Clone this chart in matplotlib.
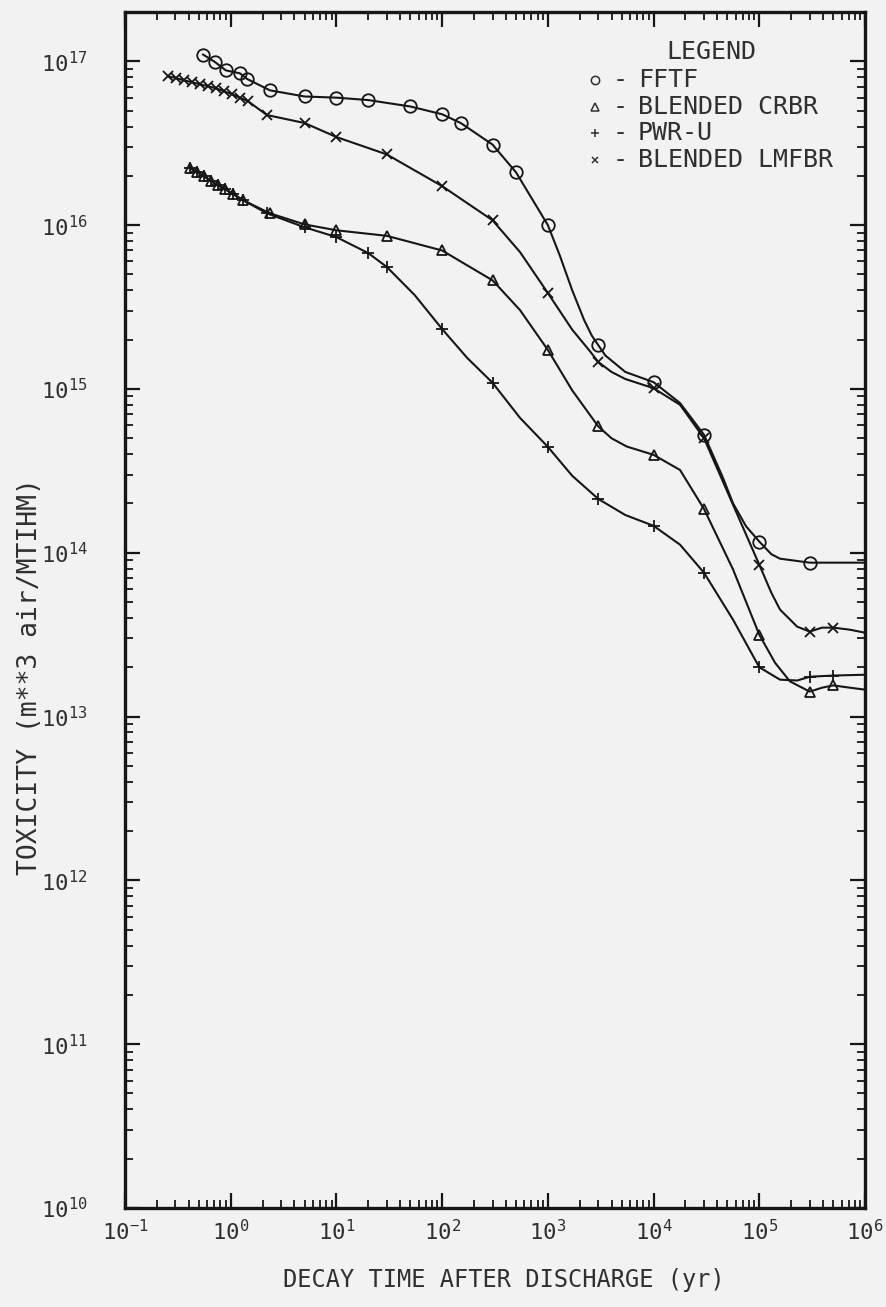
import matplotlib
matplotlib.use("Agg")
import matplotlib.pyplot as plt
from matplotlib.ticker import FixedLocator, NullFormatter, LogFormatterMathtext

# ---------------- data ----------------
fftf_t = [0.547, 0.71, 0.90, 1.22, 1.43, 2.35, 5, 10, 20, 50, 100, 150, 300, 500, 1000,
          1300, 1700, 2200, 2600, 3000, 3500, 5400, 10000, 17800, 30000, 45000, 56500, 75000,
          100000, 130000, 157000, 300000, 1e6]
fftf_v = [1.10e17, 9.9e16, 8.8e16, 8.45e16, 7.8e16, 6.65e16, 6.1e16, 6.0e16, 5.8e16, 5.3e16,
          4.75e16, 4.2e16, 3.1e16, 2.1e16, 1.0e16,
          6.5e15, 4.0e15, 2.64e15, 2.12e15, 1.85e15, 1.6e15, 1.27e15, 1.1e15, 8.2e14,
          5.25e14, 2.9e14, 2.0e14, 1.45e14,
          1.17e14, 9.8e13, 9.2e13, 8.7e13, 8.7e13]
fftf_mark = [1, 1, 1, 1, 1, 1, 1, 1, 1, 1, 1, 1, 1, 1, 1,
             0, 0, 0, 0, 1, 0, 0, 1, 0, 1, 0, 0, 0,
             1, 0, 0, 1, 0]

lmfbr_t = [0.255, 0.304, 0.361, 0.43, 0.512, 0.61, 0.726, 0.864, 1.03, 1.22, 1.46, 2.2, 5, 10,
           30, 100, 300, 545, 1000, 1700, 2500, 3000, 4000, 5400, 10000, 17800, 30000, 56500,
           100000, 130000, 157000, 228000, 300000, 392000, 500000, 722000, 1e6]
lmfbr_v = [8.1e16, 7.9e16, 7.66e16, 7.45e16, 7.24e16, 7.04e16, 6.85e16, 6.56e16, 6.3e16, 6.0e16,
           5.7e16, 4.7e16, 4.2e16, 3.45e16, 2.7e16, 1.73e16, 1.07e16, 6.85e15, 3.85e15, 2.3e15,
           1.7e15, 1.46e15, 1.27e15, 1.15e15, 1.01e15, 8.0e14, 5.0e14, 1.96e14,
           8.45e13, 5.7e13, 4.5e13, 3.54e13, 3.3e13, 3.49e13, 3.49e13, 3.39e13, 3.25e13]
lmfbr_mark = [1, 1, 1, 1, 1, 1, 1, 1, 1, 1, 1, 1, 1, 1, 1, 1, 1, 0, 1, 0, 0, 1, 0, 0, 1, 0, 1, 0,
              1, 0, 0, 0, 1, 0, 1, 0, 0]

crbr_t = [0.412, 0.48, 0.559, 0.651, 0.758, 0.883, 1.05, 1.31, 2.35, 5, 10, 30, 100, 300, 545,
          1000, 1700, 3000, 4000, 5580, 10000, 17800, 30000, 56500, 100000, 141000, 195000,
          300000, 392000, 500000, 722000, 1e6]
crbr_v = [2.23e16, 2.1e16, 1.99e16, 1.85e16, 1.75e16, 1.66e16, 1.55e16, 1.42e16, 1.18e16,
          1.01e16, 9.3e15, 8.6e15, 7.0e15, 4.6e15, 3.03e15, 1.73e15, 9.8e14, 5.9e14, 5.0e14,
          4.45e14, 3.96e14, 3.2e14, 1.85e14, 7.9e13, 3.16e13, 2.13e13, 1.64e13, 1.42e13,
          1.50e13, 1.55e13, 1.50e13, 1.46e13]
crbr_mark = [1, 1, 1, 1, 1, 1, 1, 1, 1, 1, 1, 1, 1, 1, 0, 1, 0, 1, 0, 0, 1, 0, 1, 0, 1, 0, 0,
             1, 0, 1, 0, 0]

pwr_t = [0.412, 0.48, 0.559, 0.651, 0.758, 0.883, 1.05, 1.31, 2.2, 5, 10, 20, 30, 55, 100, 172,
         300, 545, 1000, 1700, 3000, 5400, 10000, 17800, 30000, 56500, 100000, 157000, 228000,
         300000, 500000, 1e6]
pwr_v = [2.23e16, 2.1e16, 1.99e16, 1.85e16, 1.75e16, 1.66e16, 1.55e16, 1.42e16, 1.18e16,
         9.7e15, 8.45e15, 6.75e15, 5.55e15, 3.74e15, 2.32e15, 1.55e15, 1.09e15, 6.66e14,
         4.43e14, 2.95e14, 2.13e14, 1.70e14, 1.46e14, 1.12e14, 7.55e13, 3.9e13, 2.0e13,
         1.68e13, 1.66e13, 1.75e13, 1.78e13, 1.8e13]
pwr_mark = [1, 1, 1, 1, 1, 1, 1, 1, 1, 1, 1, 1, 1, 0, 1, 0, 1, 0, 1, 0, 1, 0, 1, 0, 1, 0, 1,
            0, 0, 1, 1, 0]

x_decades = [-1, 0, 1, 2, 3, 4, 5, 6]
y_decades = [10, 11, 12, 13, 14, 15, 16, 17]

legend_title = "LEGEND"
legend_labels = ["FFTF", "BLENDED CRBR", "PWR-U", "BLENDED LMFBR"]
x_label = "DECAY TIME AFTER DISCHARGE (yr)"
y_label = "TOXICITY (m**3 air/MTIHM)"

# ---------------- style ----------------
plt.rcParams['font.family'] = ['DejaVu Sans Mono', 'DejaVu Sans']
plt.rcParams['mathtext.default'] = 'regular'
TXT = '#303030'
LINE = '#161616'
BG = '#f2f2f2'

W, H = 887, 1307
fig = plt.figure(figsize=(W / 100, H / 100), dpi=100, facecolor=BG)
L, R, T, B = 125, 865, 12, 1208
ax = fig.add_axes([L / W, 1 - B / H, (R - L) / W, (B - T) / H])
ax.set_facecolor(BG)
ax.set_xscale('log')
ax.set_yscale('log')
ax.set_xlim(0.1, 1e6)
ax.set_ylim(1e10, 2e17)

series = [
    (fftf_t, fftf_v, fftf_mark, 'o', 9.0),
    (crbr_t, crbr_v, crbr_mark, '^', 7.5),
    (pwr_t, pwr_v, pwr_mark, '+', 8.0),
    (lmfbr_t, lmfbr_v, lmfbr_mark, 'x', 7.0),
]
for t, v, mk, m, ms in series:
    ax.plot(t, v, color=LINE, lw=1.5, marker=m, ms=ms, mfc='none', mec=LINE, mew=1.3,
            markevery=[bool(k) for k in mk], zorder=3, solid_joinstyle='round')

# ticks (explicit, only inside the view)
xmaj = [10.0 ** k for k in x_decades]
ymaj = [10.0 ** k for k in y_decades]
xmin = [s * 10.0 ** k for k in x_decades[:-1] for s in range(2, 10)]
ymin = [s * 10.0 ** k for k in y_decades for s in range(2, 10) if s * 10.0 ** k <= 2e17]
ax.xaxis.set_major_locator(FixedLocator(xmaj))
ax.yaxis.set_major_locator(FixedLocator(ymaj))
ax.xaxis.set_minor_locator(FixedLocator(xmin))
ax.yaxis.set_minor_locator(FixedLocator(ymin))
ax.xaxis.set_minor_formatter(NullFormatter())
ax.yaxis.set_minor_formatter(NullFormatter())
ax.xaxis.set_major_formatter(LogFormatterMathtext())
ax.yaxis.set_major_formatter(LogFormatterMathtext())
ax.tick_params(which='both', direction='in', top=True, right=True, color=LINE)
ax.tick_params(which='major', length=11, width=1.6, labelsize=16, labelcolor=TXT)
ax.tick_params(which='minor', length=6, width=1.3)
ax.tick_params(axis='y', which='major', pad=27)
ax.tick_params(axis='x', which='major', pad=8)
for s in ax.spines.values():
    s.set_linewidth(2.4)
    s.set_color(LINE)

# axis titles
fig.text(504 / W, 1 - 1280 / H, x_label, ha='center', va='center', fontsize=17, color=TXT)
fig.text(30 / W, 1 - 677 / H, y_label, ha='center', va='center', rotation=90,
         fontsize=19, color=TXT)

# legend (drawn as text block)
def axfrac(px, py):
    return (px - L) / (R - L), (B - py) / (B - T)

lx, ly = axfrac(711, 52)
ax.text(lx, ly, legend_title, transform=ax.transAxes, ha='center', va='center',
        fontsize=18, color=TXT)
rows_y = [80, 107, 133, 160]
syms = [('o', 6), ('^', 5.5), ('+', 6), ('x', 5)]
for (m, ms), lab, py in zip(syms, legend_labels, rows_y):
    sx, sy = axfrac(595, py)
    ax.plot([sx], [sy], transform=ax.transAxes, marker=m, ms=ms, mfc='none', mec=TXT,
            mew=1.1, ls='none', clip_on=False)
    dx, dy = axfrac(620, py)
    ax.text(dx, dy, '-', transform=ax.transAxes, ha='center', va='center', fontsize=18,
            color=TXT)
    tx, ty = axfrac(638, py)
    ax.text(tx, ty, lab, transform=ax.transAxes, ha='left', va='center', fontsize=18,
            color=TXT)

fig.savefig('out.png', dpi=100, facecolor=BG)
